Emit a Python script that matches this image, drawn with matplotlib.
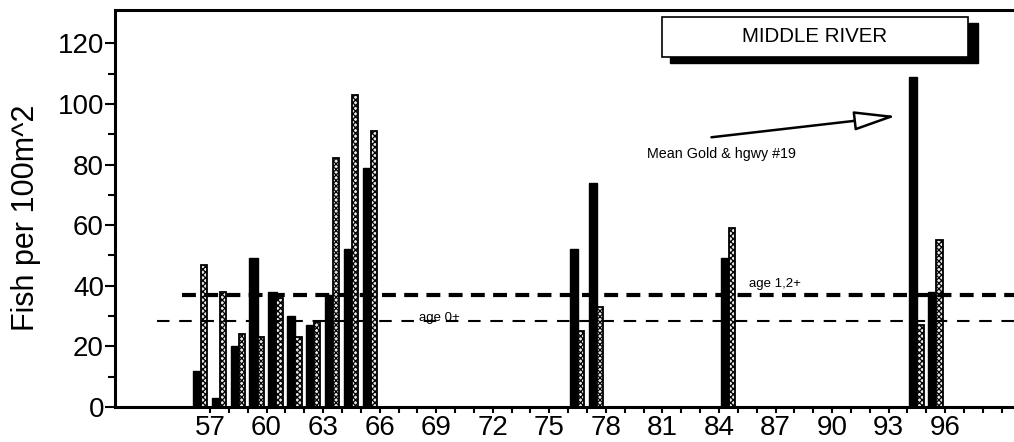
import numpy as np
import matplotlib
matplotlib.use("Agg")
import matplotlib.pyplot as plt
from matplotlib.patches import Rectangle

plt.rcParams['font.family'] = ['Liberation Sans', 'DejaVu Sans']
plt.rcParams['hatch.linewidth'] = 0.9
plt.rcParams['lines.scale_dashes'] = False

# data
years = [57, 58, 59, 60, 61, 62, 63, 64, 65, 66, 77, 78, 85, 95, 96]
age12_plus = [12, 3, 20, 49, 38, 30, 27, 37, 52, 79, 52, 74, 49, 109, 38]
age0_plus = [47, 38, 24, 23, 36, 23, 28, 82, 103, 91, 25, 33, 59, 27, 55]
mean_age12 = 37.0
mean_age0 = 28.5
xtick_years = list(range(57, 97, 3))

fig = plt.figure(figsize=(10.14, 4.42), dpi=100)
ax = fig.add_axes([0.1134, 0.0792, 0.8866, 0.8982])

x = np.array(years) - 0.5
ax.bar(x - 0.19, age12_plus, width=0.44, color='black', edgecolor='black', linewidth=1)
ax.bar(x + 0.19, age0_plus, width=0.34, color='#e8e8e8', edgecolor='black',
       hatch='xxxxxx', linewidth=1.3)

# mean lines
ax.plot([55.5, 100], [mean_age12, mean_age12], color='black', lw=3, dashes=(10, 6))
ax.plot([54.2, 100], [mean_age0, mean_age0], color='black', lw=1.5, dashes=(9, 7))
ax.text(85.6, mean_age12 + 3.5, 'age 1,2+', fontsize=9.5, va='center', ha='left')
ax.text(68.1, mean_age0 + 1.0, 'age 0+', fontsize=9.5, va='center', ha='left')

ax.annotate('', xy=(93.4, 96), xytext=(83.6, 89),
            arrowprops=dict(arrowstyle='-|>,head_length=1.3,head_width=0.3',
                            mutation_scale=20, fc='white', ec='black', lw=1.8,
                            shrinkA=0, shrinkB=0))
ax.text(80.2, 83.5, 'Mean Gold & hgwy #19', fontsize=10.3, va='center', ha='left')

ax.set_xlim(51.96, 99.65)
ax.set_ylim(0, 131)
ax.set_xticks(xtick_years)
ax.set_xticks(range(57, 100), minor=True)
ax.set_yticks(range(0, 121, 20))
ax.set_yticks(range(10, 120, 20), minor=True)
ax.tick_params(axis='both', labelsize=20, width=1.5, color='black')
ax.tick_params(axis='y', which='major', length=7, pad=1)
ax.tick_params(axis='y', which='minor', length=5, width=1.5)
ax.tick_params(axis='x', which='both', length=4, width=1.5, pad=2)
ax.spines['right'].set_visible(False)
for s in ['left', 'bottom', 'top']:
    ax.spines[s].set_linewidth(2.2)

fig.text(0.026, 0.508, 'Fish per 100m^2', rotation=90, fontsize=22,
         va='center', ha='center')

# title box with drop shadow
fig.patches.append(Rectangle((0.6607, 0.8575), 0.3037, 0.0905, transform=fig.transFigure,
                             facecolor='black', edgecolor='black', zorder=5))
fig.patches.append(Rectangle((0.6529, 0.871), 0.3018, 0.0905, transform=fig.transFigure,
                             facecolor='white', edgecolor='black', lw=1.2, zorder=6))
fig.text(0.8037, 0.9163, 'MIDDLE RIVER', fontsize=14.8, va='center', ha='center', zorder=7)

fig.savefig('out.png', dpi=100)
